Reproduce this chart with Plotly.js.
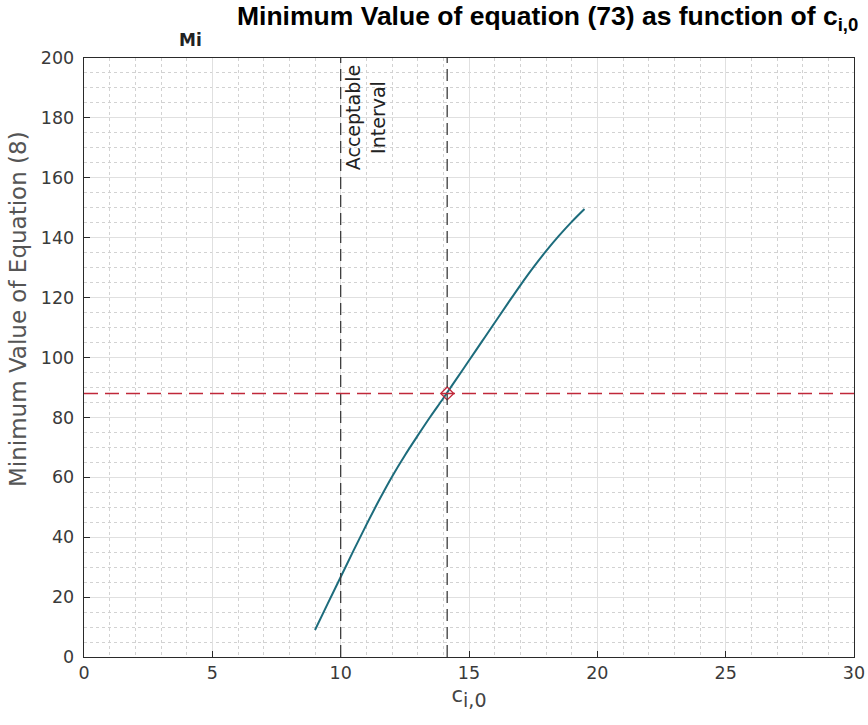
<!DOCTYPE html>
<html>
<head>
<meta charset="utf-8">
<script src="https://cdn.plot.ly/plotly-3.0.1.min.js"></script>
<style>html,body{margin:0;padding:0;background:#fff;}#chart{width:868px;height:725px;}</style>
</head>
<body>
<div id="chart"></div>
<script>
// Data
const ciValues = [9.0, 9.5, 10.0, 10.5, 11.0, 11.5, 12.0, 12.5, 13.0, 13.5, 14.0, 14.5, 15.0, 15.5, 16.0, 16.5, 17.0, 17.5, 18.0, 18.5, 19.0, 19.5];
const minValues = [9.0, 17.9, 26.7, 35.5, 44.1, 52.4, 60.2, 67.3, 73.9, 80.3, 86.4, 92.7, 99.0, 105.3, 111.6, 117.9, 124.1, 130.0, 135.5, 140.6, 145.3, 149.6];
const chosenPoint = {x: [14.15], y: [88]};
const intervalBounds = [10, 14.15];
const thresholdY = 88;
const xTicks = [0, 5, 10, 15, 20, 25, 30];
const yTicks = [0, 20, 40, 60, 80, 100, 120, 140, 160, 180, 200];

const tickFont = {family: 'DejaVu Sans, sans-serif', size: 17.5, color: '#3a3a3a'};

const traces = [
  {x: ciValues, y: minValues, type: 'scatter', mode: 'lines',
   line: {color: '#1d6c7c', width: 2, shape: 'spline', smoothing: 1}, hoverinfo: 'skip', showlegend: false},
  {x: chosenPoint.x, y: chosenPoint.y, type: 'scatter', mode: 'markers',
   marker: {symbol: 'diamond-open', size: 10, color: '#c0283a', line: {width: 1.3}},
   showlegend: false}
];

const shapes = intervalBounds.map(b => ({
  type: 'line', xref: 'x', yref: 'paper', x0: b, x1: b, y0: 0, y1: 1,
  line: {color: '#3c3c3c', width: 1.3, dash: '12px,6px'}
}));
shapes.push({type: 'line', xref: 'paper', yref: 'y', x0: 0, x1: 1, y0: thresholdY, y1: thresholdY,
  line: {color: '#c0283a', width: 1.4, dash: '14px,7px'}});

const layout = {
  width: 868, height: 725,
  margin: {l: 84, r: 14, t: 58, b: 68},
  paper_bgcolor: '#fff', plot_bgcolor: '#fff',
  showlegend: false,
  xaxis: {
    range: [0, 30], tickvals: xTicks, ticktext: xTicks.map(String),
    showgrid: true, gridcolor: '#e0e0e0', gridwidth: 1,
    minor: {dtick: 1, showgrid: true, gridcolor: '#d2d2d2', griddash: 'dot', gridwidth: 1},
    showline: true, linecolor: '#2a2a2a', linewidth: 1.3, mirror: true,
    ticks: 'inside', ticklen: 6, tickcolor: '#2a2a2a',
    zeroline: false, tickfont: tickFont,
    title: {text: 'c<sub><span style="font-size:19px">i,0</span></sub>', font: {family: 'DejaVu Sans, sans-serif', size: 21, color: '#444'}, standoff: 0}
  },
  yaxis: {
    range: [0, 200], tickvals: yTicks, ticktext: yTicks.map(String),
    showgrid: true, gridcolor: '#e0e0e0', gridwidth: 1,
    minor: {dtick: 5, showgrid: true, gridcolor: '#d2d2d2', griddash: 'dot', gridwidth: 1},
    showline: true, linecolor: '#2a2a2a', linewidth: 1.3, mirror: true,
    ticks: 'inside', ticklen: 6, tickcolor: '#2a2a2a', ticklabelstandoff: 5,
    zeroline: false, tickfont: tickFont
  },
  shapes: shapes,
  annotations: [
    {text: '<b>Minimum Value of equation (73) as function of c<sub>i,0</sub></b>',
     xref: 'paper', yref: 'paper', x: (860 - 84) / 770, y: 1, yshift: 40, xanchor: 'right', yanchor: 'middle',
     showarrow: false, font: {family: 'Liberation Sans, Arial, sans-serif', size: 26.5, color: '#000'}},
    {text: '<b>Mi</b>', xref: 'paper', yref: 'paper', x: 0.1385, y: 1, yshift: 18,
     xanchor: 'center', yanchor: 'middle', showarrow: false,
     font: {family: 'DejaVu Sans, sans-serif', size: 17, color: '#222'}},
    {text: 'Minimum Value of Equation (8)', xref: 'paper', yref: 'paper',
     x: (18 - 84) / 770, y: (657 - 309) / 599, xanchor: 'center', yanchor: 'middle',
     textangle: -90, showarrow: false,
     font: {family: 'DejaVu Sans, sans-serif', size: 23, color: '#555'}},
    {text: 'Acceptable<br>Interval', xref: 'x', yref: 'y', x: intervalBounds[0] + 1.0, y: 180,
     textangle: -90, xanchor: 'center', yanchor: 'middle', showarrow: false, align: 'center',
     font: {family: 'DejaVu Sans, sans-serif', size: 19, color: '#222'}}
  ]
};

Plotly.newPlot('chart', traces, layout, {displayModeBar: false, staticPlot: true});
</script>
</body>
</html>
